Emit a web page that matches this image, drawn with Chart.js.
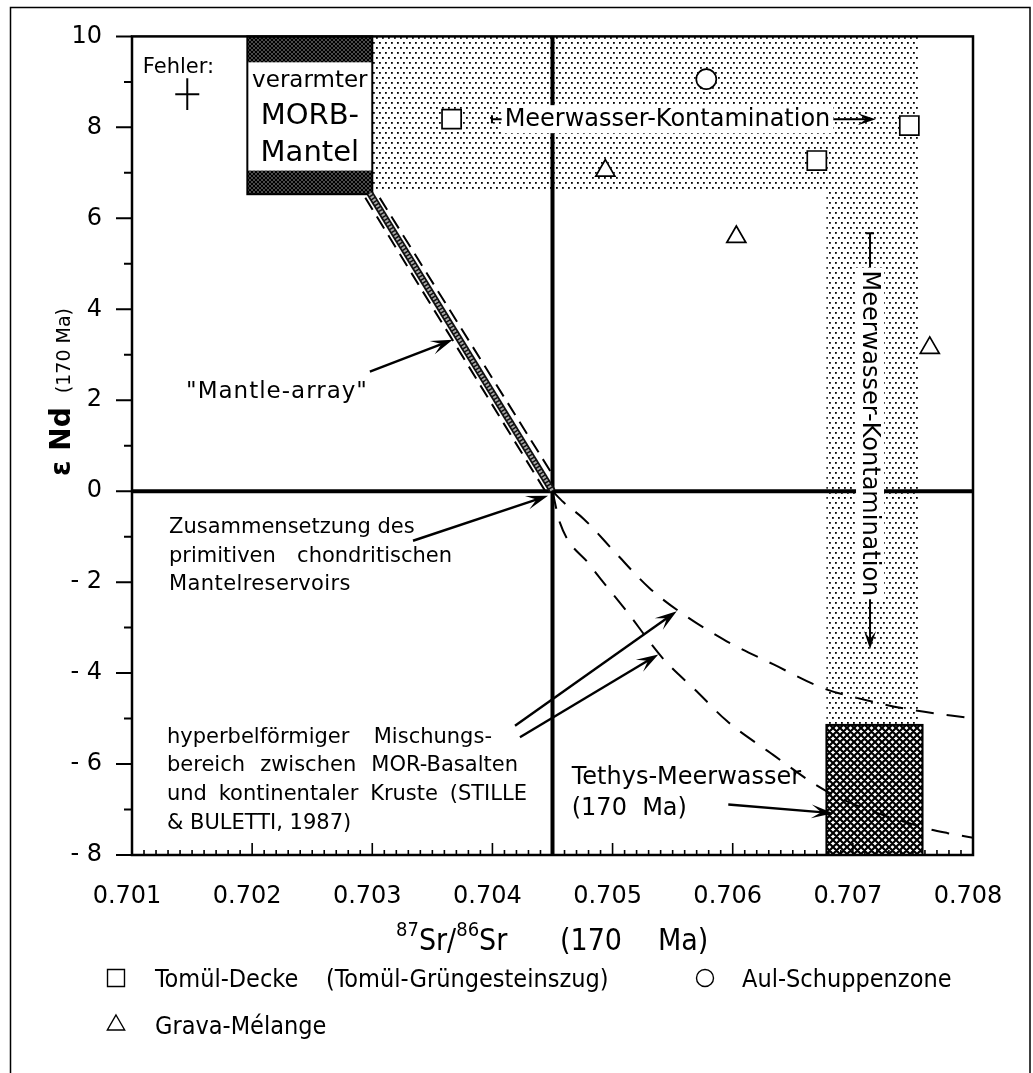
<!DOCTYPE html>
<html lang="de">
<head>
<meta charset="utf-8">
<title>eNd vs 87Sr/86Sr</title>
<script src="https://cdn.jsdelivr.net/npm/chart.js@4.4.1/dist/chart.umd.min.js"></script>
<style>
  html, body { margin: 0; padding: 0; background: #fff; }
  #box { width: 1033px; height: 1073px; }
</style>
</head>
<body>
<div id="box"><canvas id="c"></canvas></div>
<script>
// axis ranges and labelled ticks
const xRange = [0.701, 0.708];
const yRange = [-8, 10];
const xTicks = [0.701, 0.702, 0.703, 0.704, 0.705, 0.706, 0.707, 0.708];
const yTicks = [-8, -6, -4, -2, 0, 2, 4, 6, 8, 10];

// samples
const tomulX = [0.70366, 0.70747, 0.70670];
const tomulY = [8.18, 8.04, 7.27];
const aulX = [0.70578];
const aulY = [9.06];
const gravaX = [0.70494, 0.70603, 0.70764];
const gravaY = [7.05, 5.59, 3.15];

// chondritic reservoir cross-hairs
const churX = [0.7045, 0.7045];
const churY = [-8, 10];
const zeroX = [0.701, 0.708];
const zeroY = [0, 0];

// mantle array + envelope
const mantleX = [0.70298, 0.7045];
const mantleY = [6.55, 0];
const mantleLoX = [0.702942, 0.70444];
const mantleLoY = [6.45, 0.0];
const mantleHiX = [0.703062, 0.704515];
const mantleHiY = [6.45, 0.3];

// hyperbolic mixing curves
const hypUpX = [0.7045, 0.70459, 0.70476, 0.70504, 0.70531, 0.70559, 0.70595, 0.70634, 0.70675, 0.70704, 0.70745, 0.708];
const hypUpY = [0, -0.24, -0.61, -1.40, -2.14, -2.71, -3.30, -3.81, -4.33, -4.55, -4.79, -5.0];
const hypLoX = [0.7045, 0.70456, 0.70481, 0.70512, 0.70542, 0.70570, 0.70595, 0.70629, 0.70681, 0.70758, 0.70779, 0.708];
const hypLoY = [0, -0.68, -1.62, -2.65, -3.68, -4.40, -5.05, -5.71, -6.64, -7.39, -7.52, -7.62];

// fields
const morbX = [0.70196, 0.703];
const morbY = [6.53, 10];
const morbWindowY = [7.05, 9.43];
const seaBandX = [0.703, 0.70755];
const seaBandY = [6.58, 10];
const seaColX = [0.70678, 0.70755];
const seaColY = [-5.14, 6.58];
const tethysX = [0.70678, 0.70758];
const tethysY = [-8, -5.14];

// analytical error (centre, +/-)
const errX = [0.70146, 0.0001];
const errY = [8.73, 0.35];

const FONT = '"DejaVu Sans", "Noto Sans", sans-serif';
const NARROW = '"DejaVu Sans Condensed", "Liberation Sans Narrow", sans-serif';

// arrows [x0, y0, x1, y1] in data units
const arrows = [
  [0.70298, 2.63, 0.70367, 3.33],
  [0.703339, -1.09, 0.704463, -0.10],
  [0.704188, -5.16, 0.705534, -2.64],
  [0.704229, -5.41, 0.705381, -3.59],
  [0.705963, -6.89, 0.706837, -7.08]
];

// free text, anchored in data units (w = justify width in px)
const notes = [
  { t: 'Fehler:', x: 0.70109, y: 9.19, size: 21 },
  { t: 'verarmter', x: 0.70248, y: 8.88, size: 23, align: 'center' },
  { t: 'MORB-', x: 0.70248, y: 8.08, size: 29, align: 'center' },
  { t: 'Mantel', x: 0.70248, y: 7.27, size: 29, align: 'center' },
  { t: '"Mantle-array"', x: 0.702207, y: 2.04, size: 23, align: 'center', ls: 1 },
  { t: 'Zusammensetzung des', x: 0.701308, y: -0.93, size: 21 },
  { t: 'primitiven chondritischen', x: 0.701308, y: -1.55, size: 21, w: 283 },
  { t: 'Mantelreservoirs', x: 0.701308, y: -2.17, size: 21, ls: 0.4 },
  { t: 'hyperbelförmiger Mischungs-', x: 0.701291, y: -5.53, size: 21, w: 325 },
  { t: 'bereich zwischen MOR-Basalten', x: 0.701291, y: -6.16, size: 21, w: 351 },
  { t: 'und kontinentaler Kruste (STILLE', x: 0.701291, y: -6.80, size: 21, w: 360 },
  { t: '& BULETTI, 1987)', x: 0.701291, y: -7.43, size: 21 },
  { t: 'Tethys-Meerwasser', x: 0.70466, y: -6.43, size: 24 },
  { t: '(170  Ma)', x: 0.70466, y: -7.13, size: 24 }
];

const seaH = { x0: 0.703996, x1: 0.70719, y: 8.18, tx: 0.705457 };
const seaV = { y0: 5.67, y1: -3.47, x: 0.707143, ty: 1.27 };
const seaText = 'Meerwasser-Kontamination';

function xy(chart) {
  return {
    x: v => chart.scales.x.getPixelForValue(v),
    y: v => chart.scales.y.getPixelForValue(v)
  };
}

function makePattern(ctx, w, h, paint) {
  const c = document.createElement('canvas');
  c.width = w; c.height = h;
  const g = c.getContext('2d');
  paint(g, w, h);
  return ctx.createPattern(c, 'repeat');
}

function hatch(lw) {
  return (g, w, h) => {
    g.fillStyle = '#fff';
    g.fillRect(0, 0, w, h);
    g.strokeStyle = '#000';
    g.lineWidth = lw;
    g.beginPath();
    for (const o of [-w, 0, w]) {
      g.moveTo(o, 0); g.lineTo(o + w, h);
      g.moveTo(o + w, 0); g.lineTo(o, h);
    }
    g.stroke();
  };
}

function head(ctx, x, y, ang, L, W) {
  ctx.beginPath();
  ctx.moveTo(x, y);
  ctx.lineTo(x - L * Math.cos(ang) + W * Math.sin(ang), y - L * Math.sin(ang) - W * Math.cos(ang));
  ctx.lineTo(x - 0.55 * L * Math.cos(ang), y - 0.55 * L * Math.sin(ang));
  ctx.lineTo(x - L * Math.cos(ang) - W * Math.sin(ang), y - L * Math.sin(ang) + W * Math.cos(ang));
  ctx.closePath();
  ctx.fill();
}

function justified(ctx, text, x, y, width) {
  const words = text.split(' ');
  const ws = words.map(s => ctx.measureText(s).width);
  const gap = (width - ws.reduce((a, b) => a + b, 0)) / (words.length - 1);
  let cx = x;
  words.forEach((s, i) => { ctx.fillText(s, cx, y); cx += ws[i] + gap; });
}

function whiteText(ctx, text, cx, cy, rot) {
  ctx.save();
  ctx.translate(cx, cy);
  if (rot) ctx.rotate(rot);
  ctx.font = '24px ' + FONT;
  const w = ctx.measureText(text).width;
  ctx.fillStyle = '#fff';
  ctx.fillRect(-w / 2 - 3, -14, w + 6, 28);
  ctx.fillStyle = '#000';
  ctx.textAlign = 'center';
  ctx.textBaseline = 'middle';
  ctx.fillText(text, 0, 1);
  ctx.restore();
}

const figure = {
  id: 'figure',
  beforeDatasetsDraw(chart) {
    const ctx = chart.ctx, s = xy(chart);
    const dots = makePattern(ctx, 6, 10, (g, w, h) => {
      g.fillStyle = '#fff'; g.fillRect(0, 0, w, h);
      g.fillStyle = '#000';
      g.fillRect(1, 2, 1.8, 1.8); g.fillRect(4, 7, 1.8, 1.8);
    });
    const dense = makePattern(ctx, 4, 4, hatch(1.7));
    const coarse = makePattern(ctx, 7, 7, hatch(2.2));
    const box = (xs, ys) => [s.x(xs[0]), s.y(ys[1]), s.x(xs[1]) - s.x(xs[0]), s.y(ys[0]) - s.y(ys[1])];

    ctx.save();
    ctx.fillStyle = dots;
    ctx.fillRect(...box(seaBandX, seaBandY));
    ctx.fillRect(...box(seaColX, seaColY));

    ctx.fillStyle = dense;
    ctx.fillRect(...box(morbX, morbY));
    ctx.fillStyle = '#fff';
    ctx.fillRect(...box(morbX, morbWindowY));
    ctx.strokeStyle = '#000';
    ctx.lineWidth = 2;
    ctx.strokeRect(...box(morbX, morbY));

    ctx.fillStyle = coarse;
    ctx.fillRect(...box(tethysX, tethysY));
    ctx.strokeRect(...box(tethysX, tethysY));
    ctx.restore();
  },
  beforeDatasetDraw(chart, args) {
    if (args.index !== 2) return;
    const ctx = chart.ctx, s = xy(chart);
    ctx.save();
    ctx.fillStyle = '#000';
    ctx.strokeStyle = '#000';
    ctx.textBaseline = 'alphabetic';

    notes.forEach(n => {
      ctx.font = n.size + 'px ' + FONT;
      ctx.letterSpacing = (n.ls || 0) + 'px';
      ctx.textAlign = n.align || 'left';
      if (n.w) justified(ctx, n.t, s.x(n.x), s.y(n.y), n.w);
      else ctx.fillText(n.t, s.x(n.x), s.y(n.y));
    });
    ctx.letterSpacing = '0px';

    ctx.lineWidth = 2.4;
    arrows.forEach(a => {
      const x0 = s.x(a[0]), y0 = s.y(a[1]), x1 = s.x(a[2]), y1 = s.y(a[3]);
      const ang = Math.atan2(y1 - y0, x1 - x0);
      ctx.beginPath();
      ctx.moveTo(x0, y0);
      ctx.lineTo(x1 - 10 * Math.cos(ang), y1 - 10 * Math.sin(ang));
      ctx.stroke();
      head(ctx, x1, y1, ang, 22, 7);
    });

    // sea-water contamination, horizontal
    ctx.lineWidth = 2;
    const yy = s.y(seaH.y), xa = s.x(seaH.x0), xb = s.x(seaH.x1);
    ctx.beginPath();
    ctx.moveTo(xa, yy); ctx.lineTo(xb - 8, yy);
    ctx.moveTo(xa, yy - 4); ctx.lineTo(xa, yy + 4);
    ctx.stroke();
    head(ctx, xb, yy, 0, 18, 6);
    whiteText(ctx, seaText, s.x(seaH.tx), yy, 0);

    // sea-water contamination, vertical
    const xx = s.x(seaV.x), ya = s.y(seaV.y0), yb = s.y(seaV.y1);
    ctx.beginPath();
    ctx.moveTo(xx, ya); ctx.lineTo(xx, yb - 8);
    ctx.moveTo(xx - 4, ya); ctx.lineTo(xx + 4, ya);
    ctx.stroke();
    head(ctx, xx, yb, Math.PI / 2, 18, 6);
    whiteText(ctx, seaText, xx, s.y(seaV.ty), Math.PI / 2);
    ctx.restore();
  },
  afterDraw(chart) {
    const ctx = chart.ctx, s = xy(chart), a = chart.chartArea;
    ctx.save();
    ctx.strokeStyle = '#000';

    // tick marks: y outward, x inward
    ctx.lineWidth = 2;
    ctx.beginPath();
    for (let v = yRange[0]; v <= yRange[1]; v++) {
      const len = v % 2 === 0 ? 16 : 8;
      ctx.moveTo(a.left, s.y(v)); ctx.lineTo(a.left - len, s.y(v));
    }
    ctx.stroke();
    ctx.lineWidth = 1.6;
    ctx.beginPath();
    for (let i = 0; i <= 70; i++) {
      const v = xRange[0] + i * 0.0001;
      const len = i % 10 === 0 ? 12 : 5;
      ctx.moveTo(s.x(v), a.bottom); ctx.lineTo(s.x(v), a.bottom - len);
    }
    ctx.stroke();

    // plot frame + outer figure frame
    ctx.lineWidth = 2.5;
    ctx.strokeRect(a.left, a.top, a.right - a.left, a.bottom - a.top);
    ctx.lineWidth = 1.5;
    ctx.strokeRect(10.5, 7.5, 1019.5, 1100);

    // y title
    ctx.fillStyle = '#000';
    ctx.save();
    ctx.translate(60, 392);
    ctx.rotate(-Math.PI / 2);
    ctx.font = 'bold 28px ' + FONT;
    const w1 = ctx.measureText('ε Nd').width;
    ctx.font = '19px ' + FONT;
    const w2 = ctx.measureText('(170 Ma)').width;
    const st = -(w1 + 14 + w2) / 2;
    ctx.textAlign = 'left';
    ctx.font = 'bold 28px ' + FONT;
    ctx.fillText('ε Nd', st, 10);
    ctx.font = '19px ' + FONT;
    ctx.fillText('(170 Ma)', st + w1 + 14, 10);
    ctx.restore();

    // x title with superscripts
    ctx.textAlign = 'left';
    const parts = [['87', 1], ['Sr', 0], ['/', 0], ['86', 1], ['Sr', 0]];
    let tx = 396;
    parts.forEach(p => {
      ctx.font = p[1] ? '20px ' + NARROW : '30px ' + NARROW;
      ctx.fillText(p[0], tx, p[1] ? 936 : 950);
      tx += ctx.measureText(p[0]).width;
    });
    ctx.font = '30px ' + NARROW;
    ctx.fillText('(170', 560, 950);
    ctx.fillText('Ma)', 658, 950);

    // legend
    const sets = chart.data.datasets;
    const rows = [[0, 116, 978, 155, 'Tomül-Decke'], [1, 705, 978, 742, 'Aul-Schuppenzone'], [2, 116, 1025, 155, 'Grava-Mélange']];
    rows.forEach(r => {
      const d = sets[r[0]];
      ctx.fillStyle = '#fff';
      ctx.strokeStyle = '#000';
      ctx.lineWidth = 1.4;
      Chart.helpers.drawPoint(ctx, { pointStyle: d.pointStyle, radius: d.legendRadius, rotation: 0, borderWidth: 1.4 }, r[1], r[2]);
      ctx.fillStyle = '#000';
      ctx.font = '25px ' + NARROW;
      ctx.fillText(r[4], r[3], r[2] + 9);
    });
    ctx.font = '25px ' + NARROW;
    ctx.fillText('(Tomül-Grüngesteinszug)', 326, 987);
    ctx.restore();
  }
};

const pts = (xs, ys) => xs.map((x, i) => ({ x, y: ys[i] }));
const line = (xs, ys, o) => Object.assign({
  data: pts(xs, ys), showLine: true, pointRadius: 0, borderColor: '#000', borderWidth: 2, fill: false
}, o);
const marker = (label, xs, ys, style, r, lr) => ({
  label, data: pts(xs, ys), pointStyle: style, pointRadius: r, legendRadius: lr,
  pointBackgroundColor: '#fff', pointBorderColor: '#000', pointBorderWidth: 1.7, showLine: false
});

new Chart(document.getElementById('c'), {
  type: 'scatter',
  data: {
    datasets: [
      marker('Tomül-Decke', tomulX, tomulY, 'rect', 13.5, 12),
      marker('Aul-Schuppenzone', aulX, aulY, 'circle', 10, 8.5),
      marker('Grava-Mélange', gravaX, gravaY, 'triangle', 11, 10),
      line(mantleX, mantleY, { borderColor: '#a8a8a8', borderWidth: 3.5, borderDash: [2, 1.5] }),
      line(mantleX, mantleY, { borderColor: '#111', borderWidth: 7 }),
      line(mantleLoX, mantleLoY, { borderDash: [14, 8] }),
      line(mantleHiX, mantleHiY, { borderDash: [14, 8] }),
      line(hypUpX, hypUpY, { borderDash: [18, 13], cubicInterpolationMode: 'monotone' }),
      line(hypLoX, hypLoY, { borderDash: [18, 13], cubicInterpolationMode: 'monotone' }),
      line(churX, churY, { borderWidth: 4 }),
      line(zeroX, zeroY, { borderWidth: 4 }),
      line([errX[0] - errX[1], errX[0] + errX[1]], [errY[0], errY[0]], { borderWidth: 2 }),
      line([errX[0], errX[0]], [errY[0] - errY[1], errY[0] + errY[1]], { borderWidth: 2 })
    ]
  },
  options: {
    responsive: true,
    maintainAspectRatio: false,
    animation: false,
    events: [],
    layout: { padding: { left: 0, top: 32, right: 60, bottom: 0 } },
    plugins: { legend: { display: false }, tooltip: { enabled: false } },
    scales: {
      x: {
        type: 'linear', min: xRange[0], max: xRange[1],
        afterFit: sc => { sc.height = 218; },
        afterBuildTicks: sc => { sc.ticks = xTicks.map(value => ({ value })); },
        grid: { display: false }, border: { display: false },
        ticks: { callback: v => v.toFixed(3), color: '#000', font: { family: FONT, size: 24 },
                 padding: 19, labelOffset: -5, maxRotation: 0, autoSkip: false }
      },
      y: {
        type: 'linear', min: yRange[0], max: yRange[1],
        afterFit: sc => { sc.width = 132; },
        afterBuildTicks: sc => { sc.ticks = yTicks.map(value => ({ value })); },
        grid: { display: false }, border: { display: false },
        ticks: { callback: v => v < 0 ? '- ' + Math.abs(v) : String(v), color: '#000',
                 font: { family: FONT, size: 24 }, padding: 22, autoSkip: false }
      }
    }
  },
  plugins: [figure]
});
</script>
</body>
</html>
